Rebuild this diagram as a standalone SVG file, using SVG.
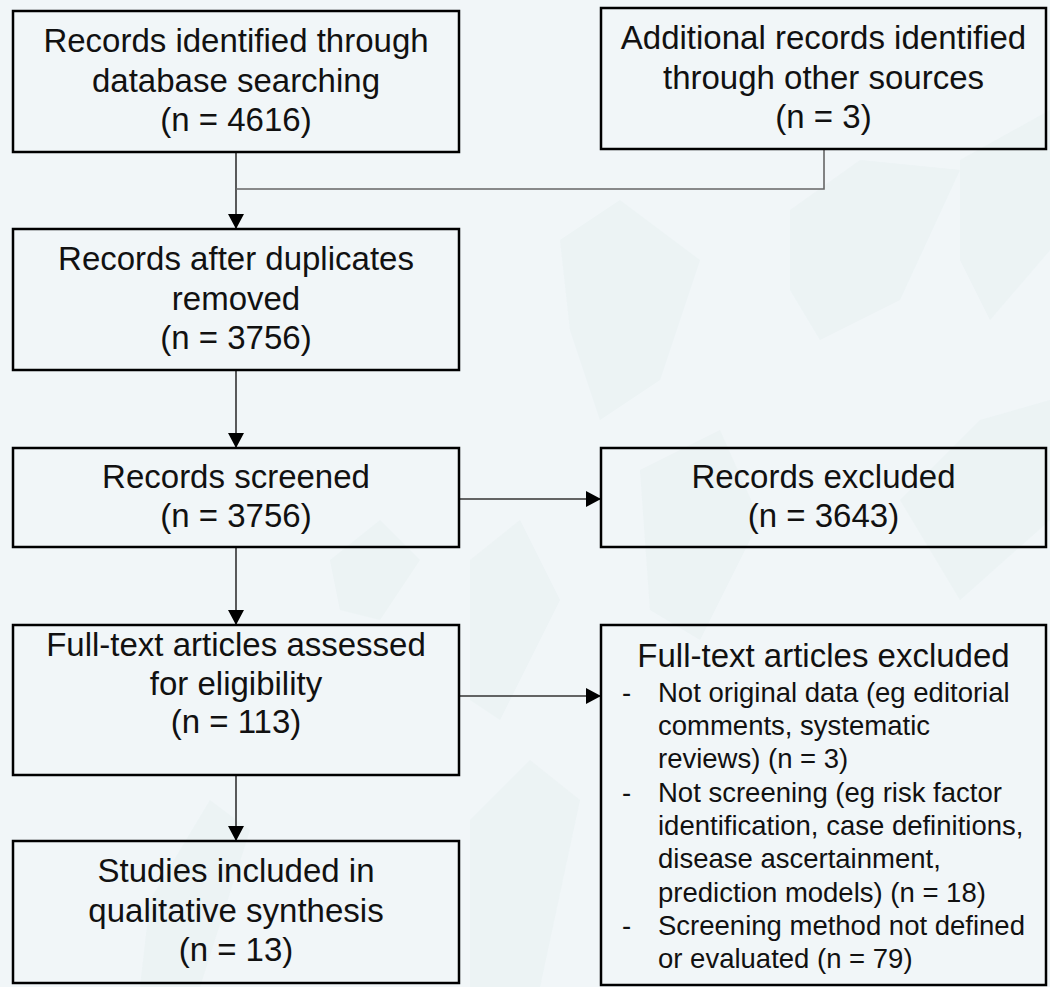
<svg xmlns="http://www.w3.org/2000/svg" width="1050" height="987" viewBox="0 0 1050 987">
<defs>
<style>
.box{fill:none;stroke:#000;stroke-width:2.5}
.t{font-family:"Liberation Sans",Arial,sans-serif;font-size:33px;fill:#111;text-anchor:middle}
.s{font-family:"Liberation Sans",Arial,sans-serif;font-size:27.5px;fill:#111}
.c{fill:none;stroke:#333;stroke-width:1.6}
.j{fill:none;stroke:#666;stroke-width:1.6}
.wm{fill:#e3edef;opacity:0.35}
</style>
<marker id="arr" markerWidth="15" markerHeight="16" refX="15" refY="8" orient="auto" markerUnits="userSpaceOnUse">
<path d="M0,0 L15,8 L0,16 z" fill="#000"/>
</marker>
</defs>
<rect width="1050" height="987" fill="#f1f6f8"/>
<g id="watermark">
<path class="wm" d="M560,240 L620,200 L700,260 L660,380 L600,420 L570,330 Z"/>
<path class="wm" d="M790,210 L860,160 L960,170 L900,300 L820,340 L790,290 Z"/>
<path class="wm" d="M960,160 L1050,110 L1050,250 L990,320 L960,260 Z"/>
<path class="wm" d="M640,470 L720,430 L760,520 L700,640 L650,610 Z"/>
<path class="wm" d="M900,500 L980,420 L1050,400 L1050,520 L960,600 Z"/>
<path class="wm" d="M470,560 L520,520 L560,600 L500,720 L470,700 Z"/>
<path class="wm" d="M150,900 L210,800 L250,830 L200,987 L140,987 Z"/>
<path class="wm" d="M470,820 L530,760 L580,800 L540,987 L470,987 Z"/>
<path class="wm" d="M330,560 L380,520 L420,560 L380,620 L340,610 Z"/>
</g>
<g id="connectors">
<path class="c" d="M236,152 V229" marker-end="url(#arr)"/>
<path class="j" d="M824,149 V189 H236"/>
<path class="c" d="M236,370 V448" marker-end="url(#arr)"/>
<path class="c" d="M459,499 H601" marker-end="url(#arr)"/>
<path class="c" d="M236,547 V625" marker-end="url(#arr)"/>
<path class="c" d="M459,696 H601" marker-end="url(#arr)"/>
<path class="c" d="M236,775 V841" marker-end="url(#arr)"/>
</g>
<g id="n1">
<rect class="box" x="13" y="11" width="446" height="141"/>
<text class="t" x="236" y="52">Records identified through</text>
<text class="t" x="236" y="91.5">database searching</text>
<text class="t" x="236" y="131">(n = 4616)</text>
</g>
<g id="n2">
<rect class="box" x="601" y="8" width="445" height="141"/>
<text class="t" x="823.5" y="49">Additional records identified</text>
<text class="t" x="823.5" y="88.5">through other sources</text>
<text class="t" x="823.5" y="128">(n = 3)</text>
</g>
<g id="n3">
<rect class="box" x="13" y="229" width="446" height="141"/>
<text class="t" x="236" y="270">Records after duplicates</text>
<text class="t" x="236" y="309.5">removed</text>
<text class="t" x="236" y="349">(n = 3756)</text>
</g>
<g id="n4">
<rect class="box" x="13" y="448" width="446" height="99"/>
<text class="t" x="236" y="487.5">Records screened</text>
<text class="t" x="236" y="527">(n = 3756)</text>
</g>
<g id="n5">
<rect class="box" x="601" y="448" width="445" height="99"/>
<text class="t" x="823.5" y="487.5">Records excluded</text>
<text class="t" x="823.5" y="527">(n = 3643)</text>
</g>
<g id="n6">
<rect class="box" x="13" y="625" width="446" height="150"/>
<text class="t" x="236" y="655.5">Full-text articles assessed</text>
<text class="t" x="236" y="694.5">for eligibility</text>
<text class="t" x="236" y="733">(n = 113)</text>
</g>
<g id="n7">
<rect class="box" x="601" y="625" width="445" height="360"/>
<text class="t" x="823.5" y="667">Full-text articles excluded</text>
<text class="s" x="622" y="701.5">-</text>
<text class="s" x="658" y="701.5">Not original data (eg editorial</text>
<text class="s" x="658" y="735">comments, systematic</text>
<text class="s" x="658" y="768.3">reviews) (n = 3)</text>
<text class="s" x="622" y="801.6">-</text>
<text class="s" x="658" y="801.6">Not screening (eg risk factor</text>
<text class="s" x="658" y="835">identification, case definitions,</text>
<text class="s" x="658" y="868.3">disease ascertainment,</text>
<text class="s" x="658" y="901.6">prediction models) (n = 18)</text>
<text class="s" x="622" y="935">-</text>
<text class="s" x="658" y="935">Screening method not defined</text>
<text class="s" x="658" y="968.3">or evaluated (n = 79)</text>
</g>
<g id="n8">
<rect class="box" x="13" y="841" width="446" height="142"/>
<text class="t" x="236" y="882">Studies included in</text>
<text class="t" x="236" y="921.5">qualitative synthesis</text>
<text class="t" x="236" y="961">(n = 13)</text>
</g>
</svg>
